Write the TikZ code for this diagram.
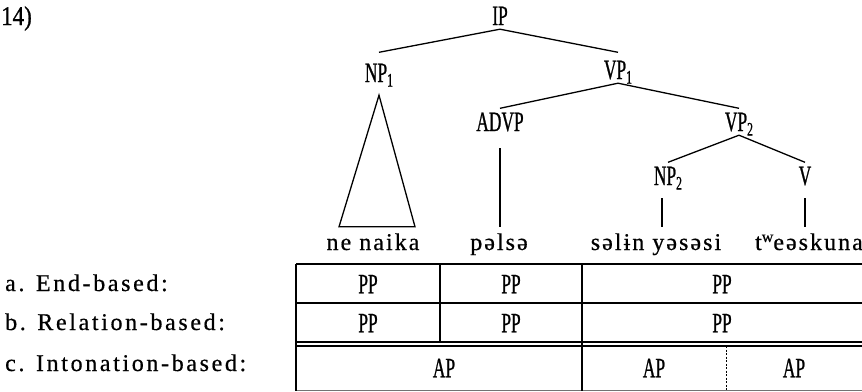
\documentclass[tikz,border=0pt]{standalone}
\usepackage{fontspec}
\usetikzlibrary{calc}
\setmainfont{Liberation Serif}
\newfontfamily\catfont{Liberation Serif}[FakeStretch=0.62, FakeBold=0.8]
\newfontfamily\wordfont{Liberation Serif}[LetterSpace=8.5, FakeBold=0.6]
\newfontfamily\labelfont{Liberation Serif}[LetterSpace=11, FakeBold=0.6]
\newfontfamily\numfont{Liberation Serif}[FakeStretch=0.85, FakeBold=1]
% subscript index on category labels, superscript w on the verb
\newcommand\subidx[1]{\raisebox{-4.5pt}{\fontsize{19}{19}\selectfont #1}}
\newcommand\supw{\raisebox{8pt}{\fontsize{16}{16}\selectfont w}}

\tikzset{
  cat/.style={font=\catfont\fontsize{28}{28}\selectfont, inner xsep=0pt,
    inner ysep=4pt, text height=18.5pt, text depth=0pt, anchor=base},
  word/.style={font=\wordfont\fontsize{24}{24}\selectfont, inner xsep=0pt,
    inner ysep=9pt, text height=14pt, text depth=5pt, anchor=base},
  rowlabel/.style={font=\labelfont\fontsize{24}{24}\selectfont, inner sep=0pt,
    anchor=base west},
  cell/.style={font=\catfont\fontsize{28}{28}\selectfont, inner sep=0pt,
    text height=18.5pt, text depth=0pt},
  branch/.style={line width=1.3pt},
  rule/.style={line width=1.3pt},
  softrule/.style={line width=0.9pt, black!55},
  dotrule/.style={line width=1pt, dash pattern=on 2pt off 1.5pt},
}

\begin{document}
\begin{tikzpicture}[x=1pt,y=-1pt]
\useasboundingbox (0,0) rectangle (862,391);

% example number
\node[font=\numfont\fontsize{27}{27}\selectfont, inner sep=0pt, anchor=base west] (exnum) at (1,25) {14)};

% tree labels
\node[cat] (IP)   at (500,25)  {IP};
\node[cat] (NP1)  at (379,82)  {NP\subidx{1}};
\node[cat] (VP1)  at (618,79)  {VP\subidx{1}};
\node[cat] (ADVP) at (500,131) {ADVP};
\node[cat] (VP2)  at (739,131) {VP\subidx{2}};
\node[cat] (NP2)  at (668,185) {NP\subidx{2}};
\node[cat] (V)    at (805,185) {V};

% terminal strings
\node[word] (w1) at (373,250) {ne naika};
\node[word] (w2) at (499,250) {pəlsə};
\node[word] (w3) at (656,250) {səlɨn yəsəsi};
\node[word] (w4) at (809,250) {t\supw eəskuna};

% branches
\draw[branch] (IP.south) -- ([yshift=7pt]NP1.north);
\draw[branch] (IP.south) -- ([yshift=4pt]VP1.north);
\draw[branch] (VP1.south) -- (ADVP.north);
\draw[branch] (VP1.south) -- (VP2.north);
\draw[branch] (VP2.south) -- (NP2.north);
\draw[branch] (VP2.south) -- (V.north);
\draw[branch] ([yshift=-9pt]NP1.south) -- ($(w1.north)+(-34,0)$)
  -- ($(w1.north)+(42,0)$) -- cycle;
\draw[branch] ([yshift=-13pt]ADVP.south) -- (ADVP.south |- w2.north);
\draw[branch] ([xshift=-6pt,yshift=-9pt]NP2.south) -- ([xshift=-6pt]NP2.south |- w3.north);
\draw[branch] ([yshift=-9pt]V.south) -- (V.south |- w4.north);

% row labels
\node[rowlabel] (ra) at (5,291) {a. End-based:};
\node[rowlabel] (rb) at (5,330) {b. Relation-based:};
\node[rowlabel] (rc) at (5,371) {c. Intonation-based:};

% phrasing table
\draw[rule] (296,264) -- (862,264);
\draw[rule] (296,303) -- (862,303);
\draw[rule] (296,342) -- (862,342);
\draw[rule] (296,346) -- (862,346);
\draw[softrule] (296,390) -- (862,390);
\draw[rule] (296,264) -- (296,391);
\draw[rule] (440,264) -- (440,342);
\draw[rule] (582,264) -- (582,391);
\draw[dotrule] (726,346) -- (726,391);

% table cells
\node[cell] (a1) at (368,284) {PP};
\node[cell] (a2) at (511,284) {PP};
\node[cell] (a3) at (722,284) {PP};
\node[cell] (b1) at (368,323) {PP};
\node[cell] (b2) at (511,323) {PP};
\node[cell] (b3) at (722,323) {PP};
\node[cell] (c1) at (444,368) {AP};
\node[cell] (c2) at (654,368) {AP};
\node[cell] (c3) at (794,368) {AP};
\end{tikzpicture}
\end{document}
